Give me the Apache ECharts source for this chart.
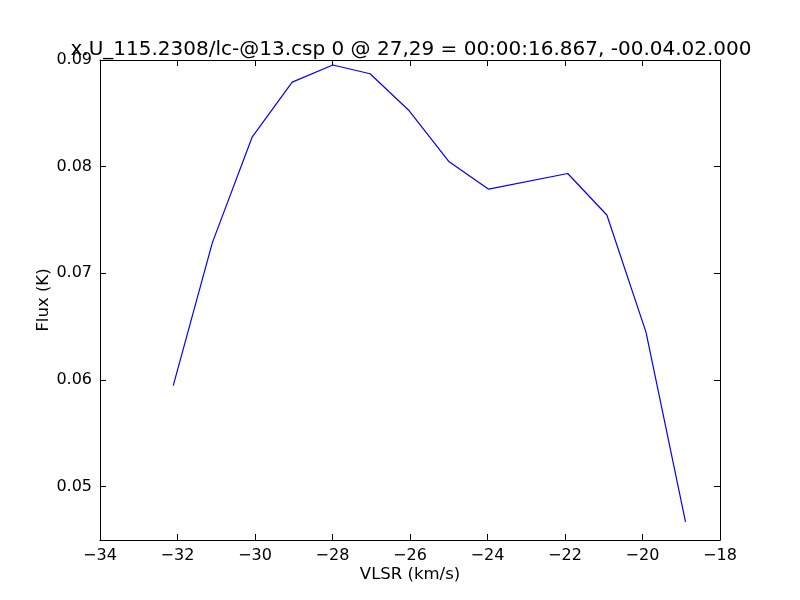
<!DOCTYPE html>
<html>
<head>
<meta charset="utf-8">
<script src="https://cdn.jsdelivr.net/npm/echarts@6/dist/echarts.min.js"></script>
<style>html,body{margin:0;padding:0;background:#fff;}#c{width:800px;height:600px;}</style>
</head>
<body>
<div id="c"></div>
<script>
const velocity = [-32.11, -31.10, -30.07, -29.04, -27.99, -27.03, -26.02, -24.99, -23.97, -21.93, -20.92, -19.91, -18.89];
const flux = [0.05948, 0.07288, 0.08280, 0.08793, 0.08953, 0.08871, 0.08524, 0.08045, 0.07789, 0.07936, 0.07547, 0.06449, 0.04671];
const yTicks = [0.05, 0.06, 0.07, 0.08, 0.09];
const titleText = 'x.U_115.2308/lc-@13.csp 0 @ 27,29 = 00:00:16.867, -00.04.02.000';

const chart = echarts.init(document.getElementById('c'));
const font = 'DejaVu Sans';
const fmtX = v => (v < 0 ? '\u2212' + Math.abs(v) : String(v));
const axisLineStyle = {show: true, onZero: false, lineStyle: {color: '#000', width: 1}};
const tickStyle = {show: true, inside: true, length: 6, lineStyle: {color: '#000', width: 1}};
chart.setOption({
  animation: false,
  backgroundColor: '#fff',
  title: {
    text: titleText, left: 406, top: 35, textAlign: 'center',
    textStyle: {fontFamily: font, fontSize: 20, fontWeight: 'normal', color: '#000'}
  },
  grid: {left: 100, right: 80, top: 60, bottom: 60, containLabel: false},
  xAxis: [{
    type: 'value', min: -34, max: -18, interval: 2, position: 'bottom',
    name: 'VLSR (km/s)', nameLocation: 'middle', nameGap: 26, nameMoveOverlap: false,
    nameTextStyle: {fontFamily: font, fontSize: 16.5, color: '#000'},
    axisLine: axisLineStyle, axisTick: tickStyle, splitLine: {show: false},
    axisLabel: {fontFamily: font, fontSize: 16, color: '#000', margin: 8, formatter: fmtX}
  }, {
    type: 'value', min: -34, max: -18, interval: 2, position: 'top',
    axisLine: axisLineStyle, axisTick: tickStyle, splitLine: {show: false}, axisLabel: {show: false}
  }],
  yAxis: [{
    type: 'value', min: 0.045, max: 0.09, position: 'left',
    name: 'Flux (K)', nameLocation: 'middle', nameGap: 48, nameRotate: 90, nameMoveOverlap: false,
    nameTextStyle: {fontFamily: font, fontSize: 16.5, color: '#000'},
    axisLine: axisLineStyle,
    axisTick: Object.assign({customValues: yTicks}, tickStyle),
    splitLine: {show: false},
    axisLabel: {fontFamily: font, fontSize: 16, color: '#000', margin: 8, customValues: yTicks,
      formatter: v => v.toFixed(2)}
  }, {
    type: 'value', min: 0.045, max: 0.09, position: 'right',
    axisLine: axisLineStyle,
    axisTick: Object.assign({customValues: yTicks}, tickStyle),
    splitLine: {show: false}, axisLabel: {show: false}
  }],
  series: [{
    type: 'line', xAxisIndex: 0, yAxisIndex: 0,
    data: velocity.map((v, i) => [v, flux[i]]),
    showSymbol: false, symbol: 'none',
    lineStyle: {color: '#0000ff', width: 1.2},
    itemStyle: {color: '#0000ff'}
  }]
});
</script>
</body>
</html>
